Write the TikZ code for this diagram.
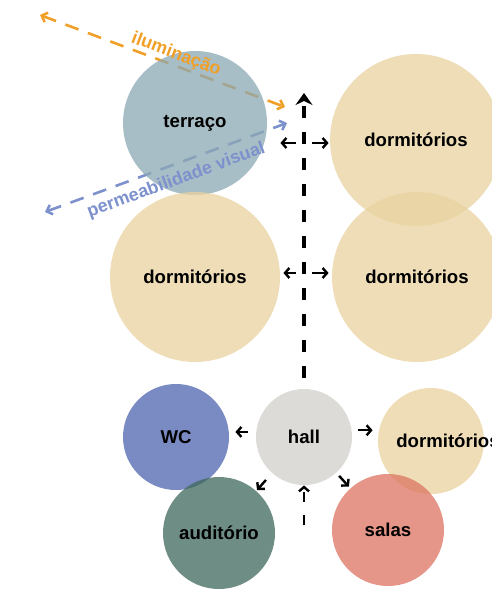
\documentclass[tikz,border=0pt]{standalone}
\usepackage{fontspec}
\setmainfont{Liberation Sans}
\usetikzlibrary{arrows.meta, positioning, calc}

\definecolor{dormfill}{RGB}{232,210,159}
\definecolor{terracefill}{RGB}{139,168,179}
\definecolor{hallfill}{RGB}{210,207,202}
\definecolor{wcfill}{RGB}{78,99,174}
\definecolor{audfill}{RGB}{62,103,92}
\definecolor{salasfill}{RGB}{220,115,96}
\definecolor{sunorange}{RGB}{240,160,40}
\definecolor{viewblue}{RGB}{125,145,205}

\newcommand{\roomfont}{\fontsize{9.3}{11}\selectfont\bfseries}
\newcommand{\notefont}{\fontsize{9}{10}\selectfont\bfseries}

\begin{document}
\begin{tikzpicture}[
    x=0.5pt, y=-0.5pt,
    room/.style={circle, inner sep=0pt, fill opacity=0.75, text opacity=1, font=\roomfont},
    flow/.style={-{Straight Barb[length=2.2pt, width=5pt]}, line width=1.2pt},
    mainaxis/.style={-{Stealth[length=6pt, width=8.5pt, inset=2pt]}, line width=2.3pt, dash pattern=on 6pt off 7pt},
    sightline/.style={{Straight Barb[length=2.5pt, width=5pt]}-{Straight Barb[length=2.5pt, width=5pt]}, line width=1.3pt, dash pattern=on 7pt off 5pt},
]
\useasboundingbox (0,0) rectangle (491,592);

% light and view from the terrace
\coordinate (sunfar) at (40,15);
\coordinate (sunnear) at (285,107);
\coordinate (viewfar) at (45,212);
\coordinate (viewnear) at (287,123);

\draw[sightline, sunorange] (sunfar) -- (sunnear);
\draw[sightline, viewblue] (viewfar) -- (viewnear);

% rooms
\node[room, fill=terracefill, minimum size=72pt] (terraco) at (195,123) {terraço};
\node[room, fill=dormfill, minimum size=86pt] (dormA) at (416,140) {dormitórios};
\node[room, fill=dormfill, minimum size=85pt] (dormB) at (195,277) {dormitórios};
\node[room, fill=dormfill, minimum size=85pt] (dormC) at (417,277) {dormitórios};

\node[room, fill=hallfill, minimum size=48pt] (hall) at (304,437) {hall};
\node[room, fill=wcfill, minimum size=53pt] (wc) at (176,437) {WC};
\node[room, fill=audfill, minimum size=56pt] (auditorio) at (219,533) {auditório};
\node[room, fill=dormfill, minimum size=53pt,
      label={[font=\roomfont, xshift=8.5pt]center:dormitórios}] (dormD) at (431,441) {};
\node[room, fill=salasfill, minimum size=56pt] (salas) at (388,530) {salas};

% labels of the sight lines, over the terrace
\path (sunfar) -- node[pos=0.54, sloped, above, inner sep=1pt, font=\notefont, text=sunorange] (sunlabel) {iluminação} (sunnear);
\path (viewfar) -- node[pos=0.52, sloped, below, inner sep=3.5pt, font=\notefont, text=viewblue] (viewlabel) {permeabilidade visual} (viewnear);

% circulation axis
\coordinate (axistop) at (304,93);
\coordinate (crossA) at (304,143);
\coordinate (crossB) at (304,273);
\coordinate (entry) at (304,525);

\draw[mainaxis] ([yshift=5.5pt]hall.north) -- (axistop);

\draw[flow, shorten <=4pt, shorten >=6.5pt] (crossA) -- (crossA -| terraco.east);
\draw[flow, shorten <=4pt, shorten >=0.5pt] (crossA) -- (crossA -| dormA.west);
\draw[flow, shorten <=4pt, shorten >=1.5pt] (crossB) -- (crossB -| dormB.east);
\draw[flow, shorten <=4pt, shorten >=1.5pt] (crossB) -- (crossB -| dormC.west);

\draw[flow, shorten <=4pt, shorten >=3pt] (hall.174) -- (hall.174 -| wc.east);
\draw[flow, shorten <=3pt, shorten >=2.5pt] (hall.8) -- (hall.8 -| dormD.west);
\draw[flow, shorten <=4.5pt, shorten >=0.5pt] (hall) -- (auditorio);
\draw[flow, shorten <=2pt, shorten >=1pt] (hall) -- (salas);
\draw[flow, dash pattern=on 5pt off 6.5pt] (entry) -- (hall.south);

\end{tikzpicture}
\end{document}
